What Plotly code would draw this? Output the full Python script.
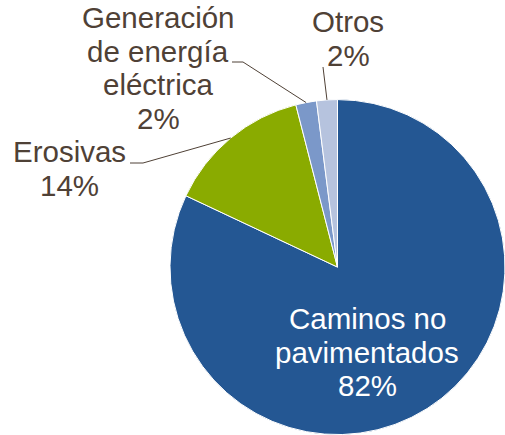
import math
import plotly.graph_objects as go

# Data
categories = ["Caminos no pavimentados", "Erosivas", "Generación de energía eléctrica", "Otros"]
values = [82, 14, 2, 2]
label_lines = [
    ["Caminos no", "pavimentados"],
    ["Erosivas"],
    ["Generación", "de energía", "eléctrica"],
    ["Otros"],
]
colors = ["#245793", "#8aab00", "#7b98c9", "#b6c3de"]

TEXT_COLOR = "#4f4136"
FONT = "Liberation Sans, Arial, sans-serif"
FS = 29.5
LINE_H = 33.5  # px between baselines

W, H = 505, 435
dom_x = [0.3366, 1.0]
dom_y = [0.0, 0.772]

fig = go.Figure(go.Pie(
    labels=categories,
    values=values,
    sort=False,
    direction="clockwise",
    rotation=0,
    marker=dict(colors=colors, line=dict(color="white", width=1)),
    textinfo="none",
    hoverinfo="label+percent",
    domain=dict(x=dom_x, y=dom_y),
    showlegend=False,
))

# pie geometry (pixels, from top-left)
r = min((dom_x[1] - dom_x[0]) * W, (dom_y[1] - dom_y[0]) * H) / 2
cx = (dom_x[0] + dom_x[1]) / 2 * W
cy = H - (dom_y[0] + dom_y[1]) / 2 * H

total = sum(values)
pcts = [f"{round(v / total * 100)}%" for v in values]

def mid_point(i):
    start = sum(values[:i]) / total * 360
    mid = start + values[i] / total * 360 / 2
    a = math.radians(mid)
    return cx + r * math.sin(a), cy - r * math.cos(a)

def px2paper(x, y):
    return x / W, 1 - y / H

# label anchors in pixels: (center x, first baseline y), text colour
anchors = [
    (367, 330, "white"),
    (69, 163, TEXT_COLOR),
    (158, 29, TEXT_COLOR),
    (348, 33, TEXT_COLOR),
]

annotations = []
for i, (lx, ly, col) in enumerate(anchors):
    lines = label_lines[i] + [pcts[i]]
    for k, t in enumerate(lines):
        by = ly + k * LINE_H
        px, py = px2paper(lx, by + FS * 0.21)
        annotations.append(dict(
            x=px, y=py, xref="paper", yref="paper",
            text=t, showarrow=False, xanchor="center", yanchor="bottom",
            font=dict(family=FONT, size=FS, color=col),
            borderpad=0, align="center",
        ))

# leader lines (label end points in pixels, ending at the slice mid-point)
leaders = {
    1: [(130, 163), (143, 163)],
    2: [(232, 62), (243, 62)],
    3: [(323, 67)],
}
shapes = []
for i, pts in leaders.items():
    coords = [px2paper(x, y) for x, y in pts] + [px2paper(*mid_point(i))]
    d = " ".join(("M" if j == 0 else "L") + f"{px},{py}" for j, (px, py) in enumerate(coords))
    shapes.append(dict(type="path", path=d, xref="paper", yref="paper",
                       line=dict(color="#4f4136", width=1)))

fig.update_layout(
    width=W, height=H,
    margin=dict(l=0, r=0, t=0, b=0),
    paper_bgcolor="white",
    plot_bgcolor="white",
    annotations=annotations,
    shapes=shapes,
)

# remove the browser's default 8px body margin so the figure fills the window
fig.write_html("out.html", config={"displayModeBar": False},
               post_script="document.body.style.margin='0';")
